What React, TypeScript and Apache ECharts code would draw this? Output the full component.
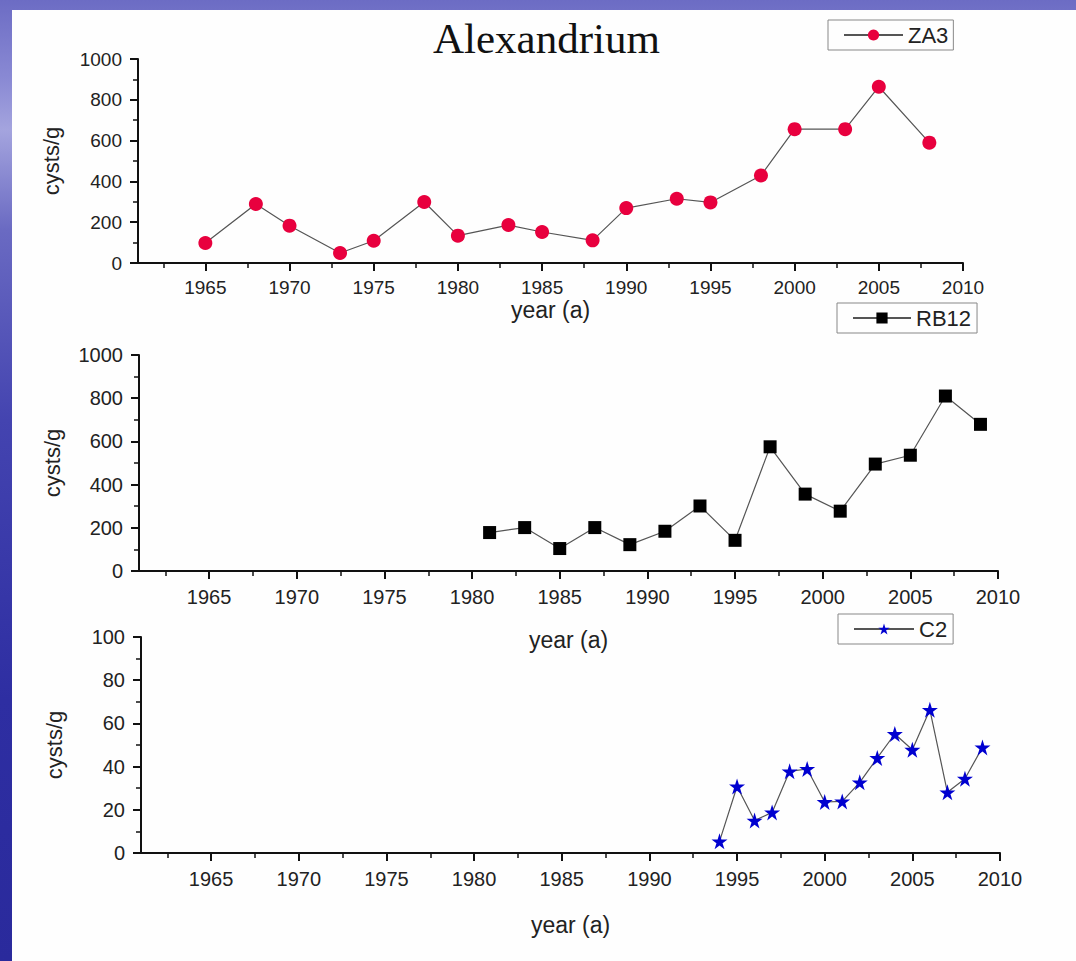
import React, { useEffect, useRef } from "react";
import * as echarts from "echarts";

const yearsZA3 = [1965, 1968, 1970, 1973, 1975, 1978, 1980, 1983, 1985, 1988, 1990, 1993, 1995, 1998, 2000, 2003, 2005, 2008];
const valuesZA3 = [98, 289, 183, 49, 109, 299, 134, 186, 152, 111, 269, 315, 297, 429, 656, 656, 864, 590];

const yearsRB12 = [1981, 1983, 1985, 1987, 1989, 1991, 1993, 1995, 1997, 1999, 2001, 2003, 2005, 2007, 2009];
const valuesRB12 = [178, 201, 104, 201, 122, 184, 301, 142, 575, 356, 277, 495, 536, 810, 679];

const yearsC2 = [1994, 1995, 1996, 1997, 1998, 1999, 2000, 2001, 2002, 2003, 2004, 2005, 2006, 2007, 2008, 2009];
const valuesC2 = [5.4, 30.8, 15, 18.8, 37.8, 38.9, 23.6, 23.9, 32.7, 44, 55.1, 47.8, 66.3, 28.1, 34.4, 48.9];

const yearTicks = [1965, 1970, 1975, 1980, 1985, 1990, 1995, 2000, 2005, 2010];
const yearMinorTicks = [1962.5, 1967.5, 1972.5, 1977.5, 1982.5, 1987.5, 1992.5, 1997.5, 2002.5, 2007.5];

const SANS = "Arial, 'Liberation Sans', sans-serif";
const TXT = "#222";

export default function App() {
  const ref = useRef<HTMLDivElement>(null);

  useEffect(() => {
    if (!ref.current) return;
    const chart = echarts.init(ref.current, null, { renderer: "svg" });

    const grids = [
      { left: 138, top: 59, width: 825, height: 204 },
      { left: 139, top: 355, width: 859, height: 216 },
      { left: 141, top: 637, width: 859, height: 216 },
    ];
    const labelSizes = [19, 20, 20];
    const labelMargins = [15, 16, 16];
    const xNameGaps = [35, 57, 60];
    const yMax = [1000, 1000, 100];
    const yInt = [200, 200, 20];
    const plain = (v: number) => String(v);

    const xAxes: any[] = [];
    const yAxes: any[] = [];
    grids.forEach((g, i) => {
      xAxes.push({
        type: "value",
        gridIndex: i,
        min: 1961,
        max: 2010,
        name: "year (a)",
        nameLocation: "middle",
        nameGap: xNameGaps[i],
        nameMoveOverlap: false,
        nameTextStyle: { fontSize: 23, color: TXT, fontFamily: SANS },
        axisLine: { show: true, onZero: false, lineStyle: { color: "#111", width: 2 } },
        axisTick: { show: true, customValues: yearTicks, length: 8, lineStyle: { color: "#111", width: 2 } },
        axisLabel: { show: true, customValues: yearTicks, margin: labelMargins[i], fontSize: labelSizes[i], color: TXT, fontFamily: SANS, formatter: plain },
        splitLine: { show: false },
      });
      xAxes.push({
        type: "value",
        gridIndex: i,
        min: 1961,
        max: 2010,
        position: "bottom",
        axisLine: { show: false },
        axisTick: { show: true, customValues: yearMinorTicks, length: 5, lineStyle: { color: "#111", width: 1.5 } },
        axisLabel: { show: false },
        splitLine: { show: false },
      });
      yAxes.push({
        type: "value",
        gridIndex: i,
        min: 0,
        max: yMax[i],
        interval: yInt[i],
        name: "cysts/g",
        nameLocation: "middle",
        nameGap: 76,
        nameMoveOverlap: false,
        nameTextStyle: { fontSize: 22, color: TXT, fontFamily: SANS },
        axisLine: { show: true, lineStyle: { color: "#111", width: 2 } },
        axisTick: { show: true, length: 8, lineStyle: { color: "#111", width: 2 } },
        minorTick: { show: true, splitNumber: 2, length: 5, lineStyle: { color: "#111", width: 1.5 } },
        axisLabel: { margin: 16, fontSize: labelSizes[i], color: TXT, fontFamily: SANS, formatter: plain },
        splitLine: { show: false },
      });
    });

    const lineStyle = { color: "#555", width: 1.2 };
    const option: any = {
      animation: false,
      backgroundColor: "transparent",
      title: {
        text: "Alexandrium",
        left: 428,
        top: 12,
        textStyle: { fontFamily: "'Liberation Serif', 'Times New Roman', serif", fontSize: 43, fontWeight: "normal", color: "#111" },
      },
      legend: [
        {
          data: ["ZA3"],
          left: 828,
          top: 20,
          itemWidth: 59,
          itemHeight: 14,
          padding: [4, 5, 4, 15],
          borderColor: "#888",
          borderWidth: 1,
          textStyle: { fontSize: 22, color: TXT, fontFamily: SANS },
        },
        {
          data: ["RB12"],
          left: 837,
          top: 303,
          itemWidth: 58,
          itemHeight: 14,
          padding: [4, 6, 4, 15],
          borderColor: "#888",
          borderWidth: 1,
          textStyle: { fontSize: 22, color: TXT, fontFamily: SANS },
        },
        {
          data: ["C2"],
          left: 838,
          top: 614,
          itemWidth: 60,
          itemHeight: 14,
          padding: [4, 6, 4, 15],
          borderColor: "#888",
          borderWidth: 1,
          textStyle: { fontSize: 22, color: TXT, fontFamily: SANS },
        },
      ],
      grid: grids,
      xAxis: xAxes,
      yAxis: yAxes,
      series: [
        {
          name: "ZA3",
          type: "line",
          xAxisIndex: 0,
          yAxisIndex: 0,
          data: yearsZA3.map((y, k) => [y, valuesZA3[k]]),
          symbol: "circle",
          symbolSize: 14,
          itemStyle: { color: "#e8003e" },
          lineStyle,
        },
        {
          name: "RB12",
          type: "line",
          xAxisIndex: 2,
          yAxisIndex: 1,
          data: yearsRB12.map((y, k) => [y, valuesRB12[k]]),
          symbol: "rect",
          symbolSize: 13,
          itemStyle: { color: "#000" },
          lineStyle,
        },
        {
          name: "C2",
          type: "line",
          xAxisIndex: 4,
          yAxisIndex: 2,
          data: yearsC2.map((y, k) => [y, valuesC2[k]]),
          symbol: "path://M50,0 L61.8,36.2 L100,36.2 L69.1,58.8 L80.9,95.1 L50,72.7 L19.1,95.1 L30.9,58.8 L0,36.2 L38.2,36.2 Z",
          symbolSize: 16,
          itemStyle: { color: "#0000d0" },
          lineStyle,
        },
      ],
    };
    chart.setOption(option);
    return () => chart.dispose();
  }, []);

  return (
    <div
      style={{
        position: "fixed",
        left: 0,
        top: 0,
        width: 1076,
        height: 961,
        background:
          "linear-gradient(180deg, #6c6cc4 0px, #8a8ad4 80px, #a4a4de 130px, #6a6ac2 230px, #4444b0 420px, #2e2ea2 700px, #2a2a9c 961px)",
      }}
    >
      <div style={{ position: "absolute", left: 12, top: 10, width: 1064, height: 951, background: "#fefefe" }} />
      <div ref={ref} style={{ position: "absolute", left: 0, top: 0, width: 1076, height: 961 }} />
    </div>
  );
}
